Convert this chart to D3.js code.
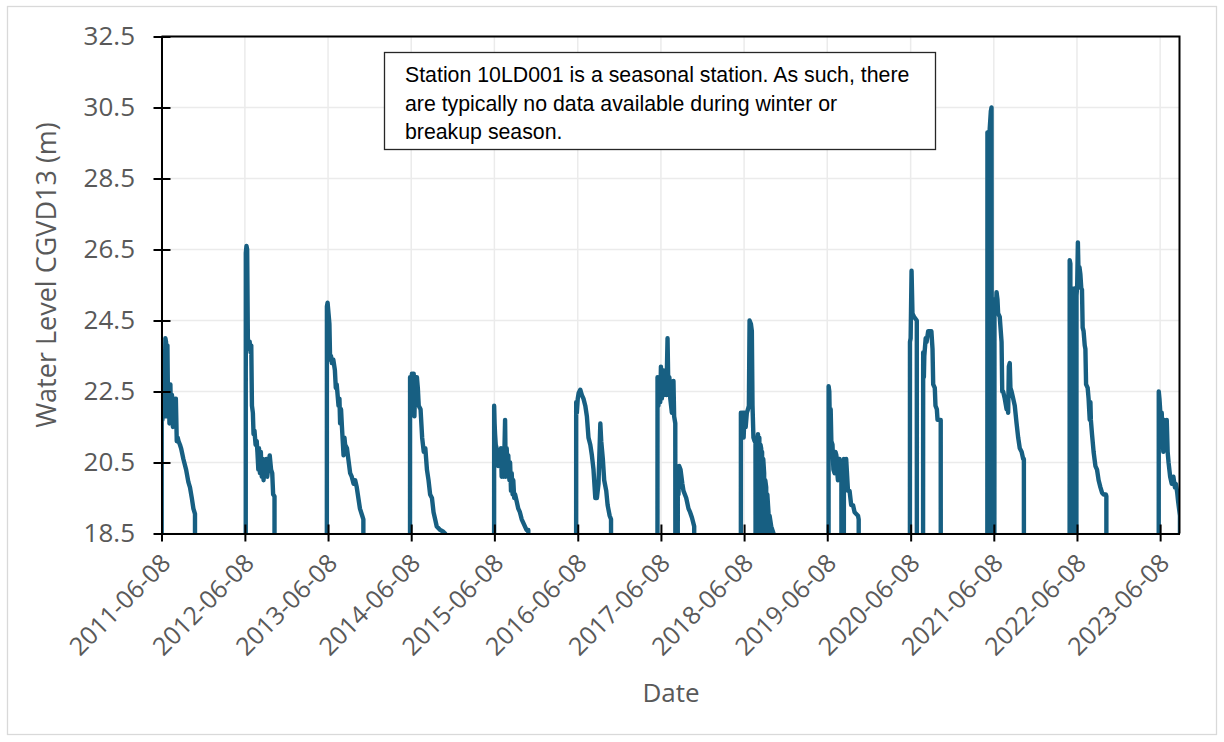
<!DOCTYPE html>
<html>
<head>
<meta charset="utf-8">
<script src="https://cdn.jsdelivr.net/npm/d3@7"></script>
<style>
    body { margin: 0; background: #fff; }
</style>
</head>
<body>
<div id="chart"></div>
<script>

// seasonal water level readings, [date, level (m)]; 0 = no data (drawn as a drop to the floor)
const season2011 = [["2011-06-09", 22.6], ["2011-06-12", 21.7], ["2011-06-15", 22.8], ["2011-06-18", 21.8], ["2011-06-22", 22.5], ["2011-06-25", 24.0], ["2011-06-28", 23.9], ["2011-07-01", 21.8], ["2011-07-04", 23.8], ["2011-07-07", 21.9], ["2011-07-10", 22.6], ["2011-07-13", 21.6], ["2011-07-17", 22.7], ["2011-07-20", 21.7], ["2011-07-24", 22.4], ["2011-07-28", 21.5], ["2011-08-01", 22.3], ["2011-08-05", 21.9], ["2011-08-10", 22.3], ["2011-08-14", 21.1], ["2011-08-18", 21.2], ["2011-08-22", 21.1], ["2011-08-28", 21.0], ["2011-09-02", 20.9], ["2011-09-12", 20.6], ["2011-09-24", 20.3], ["2011-10-04", 19.95], ["2011-10-11", 19.8], ["2011-10-19", 19.5], ["2011-10-26", 19.2], ["2011-11-02", 19.05]];
const season2012 = [["2012-06-12", 26.4], ["2012-06-15", 26.6], ["2012-06-18", 26.5], ["2012-06-21", 24.0], ["2012-06-25", 23.7], ["2012-06-29", 23.9], ["2012-07-03", 23.6], ["2012-07-06", 23.8], ["2012-07-09", 22.1], ["2012-07-13", 21.9], ["2012-07-16", 21.3], ["2012-07-20", 21.4], ["2012-07-25", 21.0], ["2012-07-30", 21.1], ["2012-08-02", 20.8], ["2012-08-06", 20.3], ["2012-08-09", 20.9], ["2012-08-13", 20.2], ["2012-08-17", 20.8], ["2012-08-21", 20.1], ["2012-08-25", 20.6], ["2012-08-29", 20.0], ["2012-09-02", 20.5], ["2012-09-06", 20.2], ["2012-09-10", 20.6], ["2012-09-14", 20.1], ["2012-09-19", 20.4], ["2012-09-25", 20.7], ["2012-10-01", 20.3], ["2012-10-06", 20.2], ["2012-10-10", 19.6], ["2012-10-16", 19.55]];
const season2013 = [["2013-06-03", 24.9], ["2013-06-06", 25.0], ["2013-06-10", 24.7], ["2013-06-14", 24.4], ["2013-06-17", 23.4], ["2013-06-21", 23.5], ["2013-06-25", 23.3], ["2013-07-01", 23.4], ["2013-07-08", 23.1], ["2013-07-12", 22.6], ["2013-07-16", 22.7], ["2013-07-24", 22.1], ["2013-07-28", 22.3], ["2013-07-31", 21.6], ["2013-08-04", 22.0], ["2013-08-08", 21.5], ["2013-08-15", 20.7], ["2013-08-19", 21.2], ["2013-08-22", 21.0], ["2013-08-30", 20.9], ["2013-09-05", 20.6], ["2013-09-13", 20.2], ["2013-09-20", 20.1], ["2013-09-28", 19.9], ["2013-10-05", 20.0], ["2013-10-12", 19.8], ["2013-10-26", 19.2], ["2013-11-05", 19.0], ["2013-11-10", 18.9]];
const season2014 = [["2014-06-03", 22.9], ["2014-06-07", 22.3], ["2014-06-11", 23.0], ["2014-06-15", 22.3], ["2014-06-19", 23.0], ["2014-06-22", 21.8], ["2014-06-25", 22.6], ["2014-06-29", 22.9], ["2014-07-03", 22.9], ["2014-07-07", 22.6], ["2014-07-11", 22.1], ["2014-07-19", 22.0], ["2014-07-26", 21.2], ["2014-08-02", 20.8], ["2014-08-09", 20.9], ["2014-08-16", 20.3], ["2014-08-23", 20.0], ["2014-08-30", 19.6], ["2014-09-07", 19.5], ["2014-09-14", 19.1], ["2014-09-21", 18.9], ["2014-09-28", 18.7], ["2014-10-13", 18.6], ["2014-10-27", 18.55], ["2014-11-04", 18.5]];
const season2015 = [["2015-06-07", 22.1], ["2015-06-09", 21.6], ["2015-06-11", 21.3], ["2015-06-14", 21.0], ["2015-06-18", 20.9], ["2015-06-21", 20.7], ["2015-06-25", 20.4], ["2015-06-29", 20.6], ["2015-07-03", 20.4], ["2015-07-07", 20.9], ["2015-07-10", 20.1], ["2015-07-14", 20.8], ["2015-07-17", 20.1], ["2015-07-21", 20.5], ["2015-07-25", 21.7], ["2015-07-28", 20.1], ["2015-08-01", 20.9], ["2015-08-05", 20.3], ["2015-08-08", 20.7], ["2015-08-13", 20.0], ["2015-08-16", 20.5], ["2015-08-20", 19.7], ["2015-08-23", 20.2], ["2015-08-27", 19.6], ["2015-08-30", 20.0], ["2015-09-03", 19.5], ["2015-09-07", 19.6], ["2015-09-14", 19.4], ["2015-09-21", 19.2], ["2015-09-28", 19.1], ["2015-10-06", 18.9], ["2015-10-13", 18.8], ["2015-10-20", 18.7], ["2015-10-27", 18.6], ["2015-11-04", 18.6]];
const season2016 = [["2016-06-01", 22.2], ["2016-06-04", 21.9], ["2016-06-08", 22.3], ["2016-06-12", 22.46], ["2016-06-19", 22.55], ["2016-06-26", 22.4], ["2016-07-03", 22.3], ["2016-07-11", 22.1], ["2016-07-18", 21.8], ["2016-07-25", 21.2], ["2016-08-02", 21.0], ["2016-08-09", 20.7], ["2016-08-16", 20.3], ["2016-08-24", 19.5], ["2016-08-31", 19.5], ["2016-09-07", 19.9], ["2016-09-15", 21.6], ["2016-09-19", 21.1], ["2016-09-26", 20.6], ["2016-10-02", 20.0], ["2016-10-11", 19.7], ["2016-10-17", 19.3], ["2016-10-26", 19.0], ["2016-11-01", 18.9]];
const season2017 = [["2017-05-24", 22.9], ["2017-05-28", 22.1], ["2017-06-01", 22.8], ["2017-06-05", 22.2], ["2017-06-08", 23.2], ["2017-06-12", 22.3], ["2017-06-17", 23.1], ["2017-06-22", 22.4], ["2017-06-27", 23.0], ["2017-07-02", 22.4], ["2017-07-07", 24.0], ["2017-07-11", 22.4], ["2017-07-15", 22.9], ["2017-07-19", 22.3], ["2017-07-26", 21.9], ["2017-08-02", 22.8], ["2017-08-05", 21.8], ["2017-08-10", 21.6], ["2017-08-12", 0], ["2017-08-20", 0], ["2017-08-21", 20.2], ["2017-08-24", 19.6], ["2017-08-27", 20.4], ["2017-09-02", 20.3], ["2017-09-10", 19.9], ["2017-09-15", 19.7], ["2017-09-27", 19.5], ["2017-10-07", 19.2], ["2017-10-14", 19.1], ["2017-10-22", 18.95], ["2017-11-01", 18.7]];
const season2018 = [["2018-05-25", 21.9], ["2018-05-29", 21.4], ["2018-06-02", 21.9], ["2018-06-06", 21.2], ["2018-06-10", 21.9], ["2018-06-15", 21.5], ["2018-06-20", 21.9], ["2018-06-25", 22.0], ["2018-06-29", 22.1], ["2018-07-02", 24.5], ["2018-07-08", 24.4], ["2018-07-12", 24.2], ["2018-07-15", 22.1], ["2018-07-19", 21.2], ["2018-07-24", 21.1], ["2018-07-28", 21.2], ["2018-07-30", 0], ["2018-08-03", 0], ["2018-08-04", 21.1], ["2018-08-06", 0], ["2018-08-08", 21.3], ["2018-08-10", 21.0], ["2018-08-12", 0], ["2018-08-14", 21.2], ["2018-08-17", 0], ["2018-08-19", 21.0], ["2018-08-22", 20.9], ["2018-08-24", 0], ["2018-08-26", 20.8], ["2018-08-29", 0], ["2018-08-31", 20.6], ["2018-09-04", 20.2], ["2018-09-07", 0], ["2018-09-09", 20.0], ["2018-09-13", 19.8], ["2018-09-16", 0], ["2018-09-18", 19.6], ["2018-09-23", 19.1], ["2018-09-26", 0], ["2018-09-28", 19.0], ["2018-10-05", 18.7], ["2018-10-15", 18.5]];
const season2019 = [["2019-06-14", 22.65], ["2019-06-17", 22.5], ["2019-06-20", 21.3], ["2019-06-23", 22.0], ["2019-06-26", 21.1], ["2019-07-01", 21.0], ["2019-07-05", 20.3], ["2019-07-10", 20.2], ["2019-07-14", 20.8], ["2019-07-18", 20.7], ["2019-07-22", 20.2], ["2019-07-25", 20.0], ["2019-07-29", 20.6], ["2019-08-01", 20.6], ["2019-08-05", 20.2], ["2019-08-09", 20.3], ["2019-08-11", 0], ["2019-08-19", 0], ["2019-08-20", 20.6], ["2019-08-25", 20.3], ["2019-08-30", 20.6], ["2019-09-07", 19.7], ["2019-09-14", 19.7], ["2019-09-21", 19.3], ["2019-09-29", 19.3], ["2019-10-06", 19.1], ["2019-10-21", 19.0], ["2019-10-24", 18.9]];
const season2020 = [["2020-06-05", 23.9], ["2020-06-08", 24.0], ["2020-06-12", 25.9], ["2020-06-16", 24.7], ["2020-06-23", 24.6], ["2020-07-05", 24.5], ["2020-07-06", 0], ["2020-07-31", 0], ["2020-08-02", 23.6], ["2020-08-05", 22.9], ["2020-08-07", 23.5], ["2020-08-13", 24.0], ["2020-08-17", 23.9], ["2020-08-24", 24.2], ["2020-08-31", 24.2], ["2020-09-07", 24.2], ["2020-09-12", 23.7], ["2020-09-15", 22.7], ["2020-09-22", 22.6], ["2020-09-25", 22.1], ["2020-10-01", 22.0], ["2020-10-04", 21.7], ["2020-10-18", 21.7]];
const season2021 = [["2021-05-11", 29.8], ["2021-05-14", 29.7], ["2021-05-17", 0], ["2021-05-19", 0], ["2021-05-21", 29.9], ["2021-05-26", 30.4], ["2021-05-29", 30.5], ["2021-06-01", 0], ["2021-06-05", 0], ["2021-06-07", 24.7], ["2021-06-09", 0], ["2021-06-11", 25.1], ["2021-06-14", 24.9], ["2021-06-17", 24.7], ["2021-06-20", 25.3], ["2021-06-24", 25.1], ["2021-06-27", 24.7], ["2021-07-04", 24.6], ["2021-07-12", 23.9], ["2021-07-15", 22.5], ["2021-07-19", 22.5], ["2021-07-26", 22.3], ["2021-08-03", 22.0], ["2021-08-07", 22.2], ["2021-08-10", 21.9], ["2021-08-13", 23.2], ["2021-08-17", 23.3], ["2021-08-20", 22.6], ["2021-08-25", 22.5], ["2021-09-01", 22.3], ["2021-09-08", 22.1], ["2021-09-16", 21.6], ["2021-09-23", 21.2], ["2021-09-30", 20.9], ["2021-10-08", 20.8], ["2021-10-15", 20.6], ["2021-10-18", 20.6]];
const season2022 = [["2022-05-07", 26.2], ["2022-05-10", 26.1], ["2022-05-12", 0], ["2022-05-15", 0], ["2022-05-17", 25.4], ["2022-05-20", 0], ["2022-05-23", 0], ["2022-05-25", 25.1], ["2022-05-28", 25.4], ["2022-06-01", 25.3], ["2022-06-04", 0], ["2022-06-06", 25.2], ["2022-06-09", 25.5], ["2022-06-12", 26.7], ["2022-06-16", 25.5], ["2022-06-19", 26.0], ["2022-06-23", 25.8], ["2022-06-27", 25.4], ["2022-06-30", 25.37], ["2022-07-03", 24.3], ["2022-07-07", 24.2], ["2022-07-12", 23.8], ["2022-07-15", 23.7], ["2022-07-18", 22.7], ["2022-07-25", 22.6], ["2022-07-29", 22.3], ["2022-08-03", 21.7], ["2022-08-06", 22.2], ["2022-08-08", 21.7], ["2022-08-13", 21.3], ["2022-08-20", 20.8], ["2022-08-28", 20.4], ["2022-09-04", 20.3], ["2022-09-11", 20.0], ["2022-09-19", 19.8], ["2022-09-26", 19.65], ["2022-10-03", 19.6], ["2022-10-13", 19.6], ["2022-10-15", 19.55]];
const season2023 = [["2023-06-02", 22.5], ["2023-06-05", 22.3], ["2023-06-08", 22.0], ["2023-06-11", 21.0], ["2023-06-15", 21.9], ["2023-06-18", 21.3], ["2023-06-22", 20.8], ["2023-06-26", 21.7], ["2023-06-30", 21.6], ["2023-07-04", 20.9], ["2023-07-07", 21.7], ["2023-07-11", 20.8], ["2023-07-15", 20.5], ["2023-07-22", 20.1], ["2023-07-29", 19.9], ["2023-08-05", 20.1], ["2023-08-12", 19.8], ["2023-08-16", 19.9], ["2023-08-22", 19.65], ["2023-08-26", 19.4], ["2023-09-03", 19.0]];

const yTicks = [18.5, 20.5, 22.5, 24.5, 26.5, 28.5, 30.5, 32.5];
const xTickLabels = ["2011-06-08", "2012-06-08", "2013-06-08", "2014-06-08", "2015-06-08", "2016-06-08", "2017-06-08", "2018-06-08", "2019-06-08", "2020-06-08", "2021-06-08", "2022-06-08", "2023-06-08"];
const xDomain = ["2011-06-08", "2023-09-01"];
const noteLines = ["Station 10LD001 is a seasonal station. As such, there", "are typically no data available during winter or", "breakup season."];

var margin = {
    top: 36.5, right: 44.5, bottom: 208.5, left: 161.5
};
var width = 1224 - margin.left - margin.right;
var height = 742 - margin.top - margin.bottom;

const parseDate = d3.timeParse("%Y-%m-%d");
const labelFont = "'Open Sans', 'Noto Sans', sans-serif";
const grey = "#595959";
const lineColor = "#175f82";

// one continuous series, with a zero reading either side of each season
let seasons = [season2011, season2012, season2013, season2014, season2015, season2016, season2017,
    season2018, season2019, season2020, season2021, season2022, season2023];
let series = [];
seasons.forEach(function (s) {
    series.push({date: d3.timeDay.offset(parseDate(s[0][0]), -1), level: 0});
    s.forEach(function (p) {
        series.push({date: parseDate(p[0]), level: p[1]});
    });
    series.push({date: d3.timeDay.offset(parseDate(s[s.length - 1][0]), 1), level: 0});
});

let x = d3.scaleTime()
    .domain(xDomain.map(parseDate))
    .range([0, width]);

let y = d3.scaleLinear()
    .domain([yTicks[0], yTicks[yTicks.length - 1]])
    .range([height, 0]);

var root = d3.select("#chart")
    .append("svg")
    .attr("width", 1224)
    .attr("height", 742);

root.append("rect")
    .attr("x", 7.5).attr("y", 6.5)
    .attr("width", 1209).attr("height", 728)
    .style("fill", "#fff")
    .style("stroke", "#d9d9d9")
    .style("stroke-width", 1.3);

var svg = root.append("g")
    .attr("transform", "translate(" + margin.left + "," + margin.top + ")");

// gridlines
svg.selectAll(".hgrid")
    .data(yTicks).enter()
    .append("line")
    .attr("x1", 0).attr("x2", width)
    .attr("y1", function (d) { return y(d); })
    .attr("y2", function (d) { return y(d); })
    .style("stroke", "#ebebeb")
    .style("stroke-width", 1.5);

svg.selectAll(".vgrid")
    .data(xTickLabels).enter()
    .append("line")
    .attr("x1", function (d) { return x(parseDate(d)); })
    .attr("x2", function (d) { return x(parseDate(d)); })
    .attr("y1", 0).attr("y2", height)
    .style("stroke", "#ebebeb")
    .style("stroke-width", 1.5);

svg.append("clipPath")
    .attr("id", "plotClip")
    .append("rect")
    .attr("width", width)
    .attr("height", height);

svg.append("path")
    .datum(series)
    .attr("clip-path", "url(#plotClip)")
    .attr("d", d3.line()
        .x(function (d) { return x(d.date); })
        .y(function (d) { return y(d.level); }))
    .style("fill", "none")
    .style("stroke", lineColor)
    .style("stroke-width", 4.4)
    .style("stroke-linejoin", "round")
    .style("stroke-linecap", "round");

// frame top and right
svg.append("path")
    .attr("d", "M0,0H" + width + "V" + height)
    .style("fill", "none")
    .style("stroke", "#000")
    .style("stroke-width", 2);

// y axis with crossing ticks
let yAxis = svg.append("g")
    .call(d3.axisLeft(y).tickValues(yTicks).tickSizeInner(8).tickSizeOuter(0).tickPadding(18.5)
        .tickFormat(d3.format(".1f")));
yAxis.select(".domain").style("stroke", "#000").style("stroke-width", 2);
yAxis.selectAll(".tick line").attr("x1", 9).style("stroke", "#000").style("stroke-width", 2);
yAxis.selectAll(".tick text")
    .style("font-family", labelFont)
    .style("font-size", "26px")
    .style("fill", grey);

// x axis, labels rotated
let xAxis = svg.append("g")
    .attr("transform", "translate(0," + height + ")")
    .call(d3.axisBottom(x).tickValues(xTickLabels.map(parseDate)).tickSizeInner(8).tickSizeOuter(0)
        .tickFormat(d3.timeFormat("%Y-%m-%d")));
xAxis.select(".domain").style("stroke", "#000").style("stroke-width", 2);
xAxis.selectAll(".tick line").attr("y1", -9).style("stroke", "#000").style("stroke-width", 2);
xAxis.selectAll(".tick text")
    .attr("x", 0).attr("y", 0).attr("dy", "0.35em")
    .attr("transform", "translate(4,25) rotate(-45)")
    .style("text-anchor", "end")
    .style("font-family", labelFont)
    .style("font-size", "25px")
    .style("fill", grey);

// axis titles
root.append("text")
    .attr("transform", "translate(56,275) rotate(-90)")
    .style("text-anchor", "middle")
    .style("font-family", labelFont)
    .style("font-size", "27px")
    .style("fill", grey)
    .text("Water Level CGVD13 (m)");

root.append("text")
    .attr("x", 671).attr("y", 702)
    .style("text-anchor", "middle")
    .style("font-family", labelFont)
    .style("font-size", "26px")
    .style("fill", grey)
    .text("Date");

// note box
let note = root.append("g");
note.append("rect")
    .attr("x", 384.5).attr("y", 52.5)
    .attr("width", 551).attr("height", 97)
    .style("fill", "#fff")
    .style("stroke", "#262626")
    .style("stroke-width", 1.3);
note.selectAll("text")
    .data(noteLines).enter()
    .append("text")
    .attr("x", 405)
    .attr("y", function (d, i) { return 82 + i * 28.5; })
    .style("font-family", "'Liberation Sans', Arial, sans-serif")
    .style("font-size", "21.3px")
    .style("fill", "#000")
    .text(function (d) { return d; });

</script>
</body>
</html>
